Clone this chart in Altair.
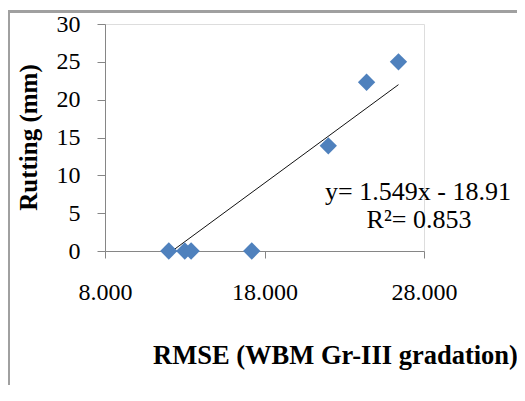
import altair as alt
import pandas as pd

rmse = [12.0, 13.0, 13.4, 17.2, 22.0, 24.4, 26.4]
rutting = [0, 0, 0, 0, 13.9, 22.3, 25.0]
slope = 1.549
intercept = -18.91
eq_text = ["y= 1.549x - 18.91", "R²= 0.853"]
x_ticks = [8, 18, 28]
y_ticks = [0, 5, 10, 15, 20, 25, 30]

pts = pd.DataFrame({"x": rmse, "y": rutting})
x0 = max(min(rmse), -intercept / slope)
x1 = max(rmse)
line_df = pd.DataFrame({"x": [x0, x1], "y": [slope * x0 + intercept, slope * x1 + intercept]})

FONT = "Liberation Serif"
AX = "#868686"

xs = alt.Scale(domain=[8, 28], nice=False, zero=False)
ys = alt.Scale(domain=[0, 30], nice=False)

x_axis = alt.Axis(
    values=x_ticks, format=".3f", title="RMSE (WBM Gr-III gradation)",
    grid=False, domainColor=AX, tickColor=AX, tickSize=7, labelFlush=False,
    labelOverlap=False,
    labelFont=FONT, labelFontSize=24, labelColor="#000", labelPadding=22,
    titleFont=FONT, titleFontSize=26.5, titleFontWeight="bold", titleColor="#000",
    titleX=230, titleY=112, titleBaseline="alphabetic", titleAnchor="middle"
)
y_axis = alt.Axis(
    values=y_ticks, title="Rutting (mm)",
    grid=False, domainColor=AX, tickColor=AX, tickSize=8, labelFlush=False,
    labelOverlap=False,
    labelFont=FONT, labelFontSize=24, labelColor="#000", labelPadding=17,
    titleFont=FONT, titleFontSize=25, titleFontWeight="bold", titleColor="#000",
    titleX=-69, titleY=113, titleBaseline="alphabetic", titleAngle=-90
)

points = alt.Chart(pts).mark_point(
    shape="diamond", filled=True, size=300, color="#4F81BD", opacity=1
).encode(
    x=alt.X("x:Q", scale=xs, axis=x_axis),
    y=alt.Y("y:Q", scale=ys, axis=y_axis),
)

trend = alt.Chart(line_df).mark_line(color="#111", strokeWidth=1).encode(
    x=alt.X("x:Q", scale=xs, axis=x_axis), y=alt.Y("y:Q", scale=ys, axis=y_axis)
)

eq_df = pd.DataFrame({"t": eq_text})
eq1 = alt.Chart(eq_df.iloc[[0]]).mark_text(
    font=FONT, fontSize=26, align="center", baseline="middle", color="#000"
).encode(x=alt.value(313), y=alt.value(168), text="t:N")
eq2 = alt.Chart(eq_df.iloc[[1]]).mark_text(
    font=FONT, fontSize=26, align="center", baseline="middle", color="#000"
).encode(x=alt.value(314), y=alt.value(196), text="t:N")

one = pd.DataFrame({"a": [0]})
frame_top = alt.Chart(one).mark_rect(fill="#A0A0A0", stroke=None).encode(
    x=alt.value(-97), x2=alt.value(440), y=alt.value(-14), y2=alt.value(-11)
)
frame_left = alt.Chart(one).mark_rect(fill="#A0A0A0", stroke=None).encode(
    x=alt.value(-97), x2=alt.value(-95), y=alt.value(-14), y2=alt.value(390)
)

chart = alt.layer(trend, points, eq1, eq2, frame_top, frame_left).properties(
    width=319, height=227,
    autosize=alt.AutoSizeParams(type="none"),
    padding={"left": 97, "top": 16, "right": 93, "bottom": 134},
).configure_view(stroke=None).configure(background="white")

chart.save("out.html", embed_options={"renderer": "svg", "actions": False})
